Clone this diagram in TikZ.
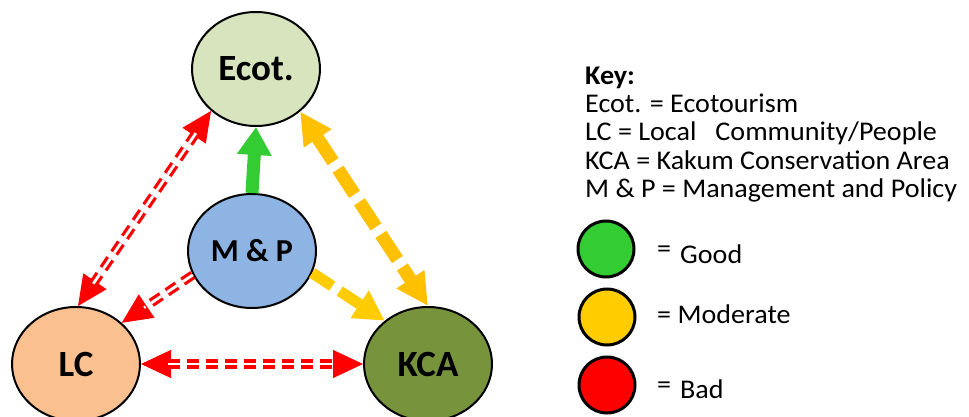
\documentclass[tikz,border=0pt]{standalone}
\usepackage{fontspec}
\setmainfont{Carlito}
\newfontfamily\keyfont[FakeStretch=1.04]{Carlito}
\usetikzlibrary{shapes.geometric,arrows.meta}
\definecolor{ecotfill}{HTML}{D7E4BD}
\definecolor{mpfill}{HTML}{8EB4E3}
\definecolor{lcfill}{HTML}{FAC090}
\definecolor{kcafill}{HTML}{77933C}
\definecolor{goodgreen}{HTML}{33CC33}
\definecolor{modyellow}{HTML}{FFCC00}
\definecolor{modorange}{HTML}{FFC000}
\definecolor{badred}{HTML}{FF0000}
\tikzset{
  redhead/.tip={Triangle[length=30pt, width=28pt]},
  bubble/.style={ellipse, draw=black, line width=2pt, minimum width=128pt, minimum height=114pt, inner sep=0pt, font=\fontsize{37}{40}\selectfont\bfseries},
  legdot/.style={circle, draw=black, line width=3pt, minimum size=56pt, inner sep=0pt},
  keytext/.style={anchor=base west, inner sep=0pt, font=\keyfont\fontsize{27}{30}\selectfont},
  redtip/.style={badred, line width=1pt, dash pattern=on 0pt off 10000pt, line cap=butt},
  reddbl/.style={badred, line width=3.2pt, double=white, double distance=2.8pt, dash pattern=on 12pt off 7pt, shorten <=27pt, shorten >=27pt},
  goodarrow/.style={goodgreen, line width=13pt, -{Triangle[length=28pt, width=33pt]}},
  modarrow/.style={modyellow, line width=11pt, dash pattern=on 24pt off 9pt, -{Triangle[length=30pt, width=31pt]}},
  modarrowboth/.style={modorange, line width=13pt, dash pattern=on 30pt off 9pt, {Triangle[length=32pt, width=31pt]}-{Triangle[length=32pt, width=31pt]}}
}
\begin{document}
\begin{tikzpicture}[x=1pt, y=-1pt]
\useasboundingbox (0,0) rectangle (969,417);
\fill[white] (0,0) rectangle (969,417);

% main nodes
\node[bubble, fill=ecotfill] (ecot) at (256,69) {Ecot.};
\node[bubble, fill=mpfill, font=\fontsize{32}{36}\selectfont\bfseries] (mp) at (252,251) {M \& P};
\node[bubble, fill=lcfill] (lc) at (76,364) {LC};
\node[bubble, fill=kcafill] (kca) at (428,364) {KCA};

% good
\draw[goodarrow] (mp.north) -- (ecot.south);

% moderate
\draw[modarrow] (mp.340) -- (kca.135);
\draw[modarrowboth] (ecot.316) -- (kca.90);

% bad: tips then double dashed lines
\draw[redtip, redhead-redhead] (ecot.223) -- (lc.88);
\draw[reddbl] (ecot.223) -- (lc.88);
\draw[redtip, -redhead] (mp.202) -- (lc.42);
\draw[reddbl, shorten <=0pt] (mp.202) -- (lc.42);
\draw[redtip, redhead-redhead] (lc.0) -- (kca.180);
\draw[reddbl] (lc.0) -- (kca.180);

% key
\node[keytext, font=\keyfont\fontsize{27}{30}\selectfont\bfseries] (keyhead) at (585,85) {Key:};
\node[keytext] (k1) at (585,113) {Ecot. = Ecotourism};
\node[keytext] (k2) at (585,141) {LC = Local\ \ \ Community/People};
\node[keytext] (k3) at (585,169) {KCA = Kakum Conservation Area};
\node[keytext] (k4) at (585,197) {M \& P = Management and Policy};

% legend
\node[legdot, fill=goodgreen] (lgood) at (606,249) {};
\node[legdot, fill=modyellow] (lmod) at (607,317) {};
\node[legdot, fill=badred] (lbad) at (607,385) {};
\node[keytext] (eqgood) at (657,257) {=};
\node[keytext] (tgood) at (680,263) {Good};
\node[keytext] (tmod) at (657,323) {= Moderate};
\node[keytext] (eqbad) at (657,393) {=};
\node[keytext] (tbad) at (680,398) {Bad};
\end{tikzpicture}
\end{document}
